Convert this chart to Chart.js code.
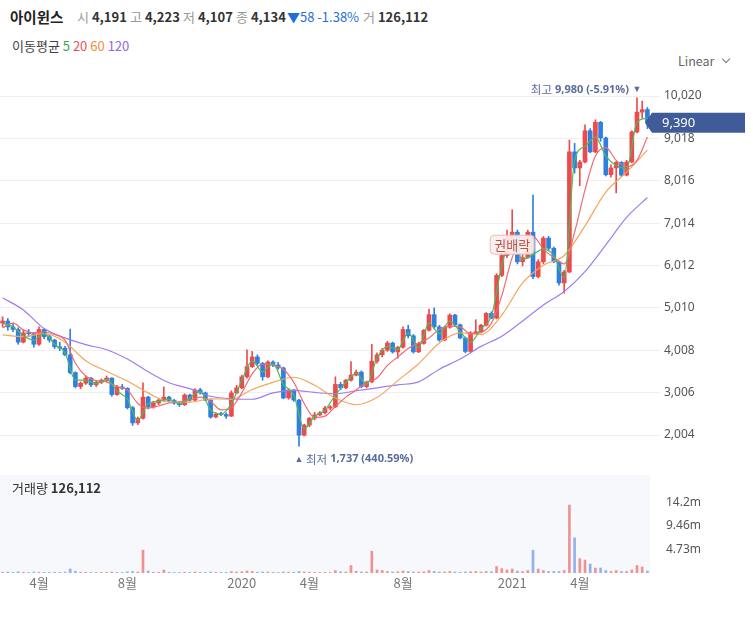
<!DOCTYPE html>
<html>
<head>
<meta charset="utf-8">
<script src="https://cdn.jsdelivr.net/npm/chart.js@4.4.1/dist/chart.umd.min.js"></script>
<style>
body { margin: 0; width: 753px; height: 617px; background: #fff; position: relative; overflow: hidden; font-family: 'Noto Sans CJK KR', 'Noto Sans', sans-serif; }
.t { position: absolute; font-size: 13px; line-height: 18px; color: #333; white-space: nowrap; }
.g { color: #999; }
.t b { color: #333; }
canvas { position: absolute; left: 0; }
.chev { position: absolute; left: 723px; top: 56px; width: 5px; height: 5px; border-right: 1.3px solid #777; border-bottom: 1.3px solid #777; transform: rotate(45deg); }
</style>
</head>
<body>
<div class="t" style="left:10px;top:8px;font-size:14.5px;font-weight:bold;color:#222">아이윈스</div>
<div class="t" style="left:77px;top:8px"><span class="g">시</span> <b>4,191</b></div>
<div class="t" style="left:130px;top:8px"><span class="g">고</span> <b>4,223</b></div>
<div class="t" style="left:183px;top:8px"><span class="g">저</span> <b>4,107</b></div>
<div class="t" style="left:236px;top:8px"><span class="g">종</span> <b>4,134</b></div>
<div class="t" style="left:287px;top:8px;color:#1f6fd6">▼58 -1.38%</div>
<div class="t" style="left:363px;top:8px"><span class="g">거</span> <b>126,112</b></div>
<div class="t" style="left:12px;top:37px;color:#444">이동평균 <span style="color:#3aa84a">5</span> <span style="color:#e9505a">20</span> <span style="color:#f08d3c">60</span> <span style="color:#8d6be6">120</span></div>
<div class="t" style="left:678px;top:52px;color:#666;font-size:12.5px">Linear</div>
<div class="chev"></div>

<canvas id="price" width="753" height="400" style="top:72px"></canvas>
<canvas id="volume" width="753" height="130" style="top:475px"></canvas>
<div class="t" style="left:12px;top:479px;color:#333">거래량 <b>126,112</b></div>

<script>
// weekly candles, Feb 2019 - Jun 2021
const open = [4650,4700,4560,4500,4200,4420,4400,4150,4500,4330,4250,4090,4060,3900,3480,3150,3230,3350,3190,3250,
  3300,3350,2960,3140,3110,2650,2290,2400,2900,2670,2760,2830,2900,2820,2760,2720,2950,2830,3070,3000,
  2830,2430,2500,2490,2450,3000,3120,3380,3620,3850,3700,3380,3730,3660,3590,2880,3070,2830,2000,2240,
  2400,2480,2530,2640,2670,3200,3120,3300,3420,3490,3150,3260,3750,3900,4010,4180,3970,4080,4500,4350,
  3970,4170,4480,4850,4560,4250,4550,4840,4610,4300,3980,4420,4440,4600,4880,4770,5780,6250,6660,6800,
  6100,6200,6800,5750,6100,6660,6420,6100,5600,5860,8700,8320,8460,9200,8700,9400,9030,8160,8320,8450,
  8150,8460,9170,9640,9700];
const high = [4800,4760,4650,4540,4480,4500,4420,4560,4520,4380,4270,4200,4100,4510,3500,3260,3400,3370,3280,3330,
  3400,3360,3180,3200,3120,2680,2430,3240,2920,2800,2860,3140,2920,2850,2780,2980,2970,3100,3110,3020,
  2840,2530,2540,2530,3050,3180,3420,4020,3980,3900,3720,3760,3760,3720,3610,3100,3080,2850,2260,2420,
  2540,2560,2680,2700,3380,3250,3320,3740,3540,3520,3280,4150,3950,4050,4220,4200,4100,4560,4600,4380,
  4200,4500,4980,5010,4600,4580,4870,4860,4630,4320,4450,4730,4620,4900,4920,5820,6300,6850,7330,6850,
  6300,6850,7680,6150,6700,6700,6450,6120,5900,8980,8900,8500,9340,9250,9460,9420,9050,8400,8480,8470,
  8500,9200,9980,9900,9750];
const low = [4560,4480,4450,4150,4180,4330,4080,4120,4280,4200,4050,4000,3880,3450,3120,3100,3200,3150,3150,3220,
  3260,2920,2940,3080,2620,2230,2250,2380,2620,2640,2720,2800,2780,2730,2680,2700,2800,2810,2970,2810,
  2400,2410,2460,2400,2440,2980,3100,3350,3600,3650,3300,3360,3620,3560,2860,2850,2800,1737,1980,2200,
  2360,2460,2500,2600,2650,3080,3100,3280,3400,3120,3120,3240,3700,3850,3980,3940,3820,4060,4300,3940,
  3950,4150,4460,4520,4220,4230,4530,4580,4280,3950,3960,4400,4420,4580,4750,4750,5750,6200,6600,6050,
  6000,6180,5700,5720,6050,6380,6080,5550,5360,5840,8200,7900,8440,8680,8680,8950,8130,8100,7730,8120,
  8130,8440,9150,9500,9250];
const close = [4700,4560,4500,4200,4420,4400,4150,4500,4330,4250,4090,4060,3900,3480,3150,3230,3350,3190,3250,3300,
  3350,2960,3140,3110,2650,2290,2400,2900,2670,2760,2830,2900,2820,2760,2720,2950,2830,3070,3000,2830,
  2430,2500,2490,2450,3000,3120,3380,3620,3850,3700,3380,3730,3660,3590,2880,3070,2830,2000,2240,2400,
  2480,2530,2640,2670,3200,3120,3300,3420,3490,3150,3260,3750,3900,4010,4180,3970,4080,4500,4350,3970,
  4170,4480,4850,4560,4250,4550,4840,4610,4300,3980,4420,4440,4600,4880,4770,5780,6250,6660,6800,6100,
  6200,6800,5750,6100,6660,6420,6100,5600,5860,8700,8320,8460,9200,8700,9400,9030,8160,8320,8450,8150,
  8460,9170,9640,9700,9390];
// volume in millions
const volume = [0.15,0.2,0.12,0.25,0.15,0.1,0.2,0.15,0.12,0.1,0.15,0.12,0.18,0.8,0.35,0.15,0.12,0.1,0.1,0.1,
  0.12,0.2,0.12,0.1,0.25,0.3,0.2,4.6,0.4,0.15,0.12,0.6,0.15,0.1,0.1,0.15,0.1,0.2,0.12,0.1,
  0.2,0.12,0.1,0.12,0.3,0.2,0.25,0.4,0.3,0.15,0.2,0.2,0.12,0.1,0.2,0.15,0.12,0.3,0.2,0.15,
  0.12,0.1,0.12,0.1,0.5,0.25,0.2,1.5,0.35,0.2,0.2,4.4,0.6,0.5,0.3,0.2,0.25,0.4,0.3,0.2,
  0.2,0.25,0.5,0.3,0.2,0.2,0.3,0.2,0.15,0.2,0.25,0.3,0.2,0.3,0.25,1.3,0.9,0.6,0.8,0.4,
  0.3,0.5,4.6,0.8,0.5,0.3,0.3,0.3,0.5,13.7,7.1,2.9,2.6,1.8,1.0,1.0,0.5,0.3,0.5,0.3,
  0.3,0.6,1.5,1.2,0.4];

// moving averages (ma5/ma20 every 2 weeks, ma60/ma120 every 4 weeks)
const ma5 = [4650,4560,4350,4250,4400,4150,3950,3300,3300,3220,3320,3050,2850,2350,2750,2800,2850,2740,2880,3030,
  2600,2500,2750,3300,3750,3500,3690,3200,2950,2150,2440,2600,2950,3250,3460,3200,3820,4100,4030,4420,
  4070,4650,4400,4700,4450,4200,4520,4820,6000,6730,6150,6270,6400,6250,5720,8500,8830,9050,8600,8380,
  8300,9400,9500];
const ma20 = [4540,4650,4490,4420,4440,4380,4250,3700,3400,3290,3260,3150,3070,2750,2640,2690,2760,2790,2830,2900,
  2800,2600,2650,3000,3450,3680,3660,3560,3250,2750,2420,2450,2680,2900,3070,3250,3350,3650,3850,4050,
  4180,4300,4500,4580,4560,4400,4430,4650,5300,6200,6650,6700,6400,6200,6050,6800,7800,8600,8800,8500,
  8350,8500,9050];
const ma60 = [4370,4330,4400,4200,3760,3510,3280,3000,2790,2780,2860,2850,3080,3250,3370,3180,
  2880,2720,2890,3290,3690,4180,4420,4380,4840,5600,6020,6250,6950,7750,8220,8740];
const ma120 = [5250,4960,4520,4300,4140,4020,3800,3500,3240,3100,2920,2860,2850,3000,3060,3010,
  2980,3050,3120,3190,3260,3560,3800,4100,4340,4700,5080,5400,5870,6500,7150,7620];

const priceTicks = [2004, 3006, 4008, 5010, 6012, 7014, 8016, 9018, 10020];
const volumeTicks = [4.73, 9.46, 14.2];
const tickWeeks = [7, 24, 46, 59, 77, 98, 111];
const tickLabels = ['4월', '8월', '2020', '4월', '8월', '2021', '4월'];
const events = [{ week: 98, label: '권배락' }];

const upColor = '#ec4b4b';
const downColor = '#2f7fe0';
const isUp = close.map((c, i) => c >= open[i]);
const candleColors = isUp.map(u => u ? upColor : downColor);
const fmt = v => v.toLocaleString('en-US');

Chart.defaults.font.family = "'Noto Sans CJK KR', 'Noto Sans', sans-serif";
Chart.defaults.animation = false;

// keep the plot area exactly where the layout puts it
const noPad = s => { s.paddingTop = 0; s.paddingBottom = 0; s.paddingLeft = 0; s.paddingRight = 0; };

const maLine = (label, values, step, color) => ({
    type: 'line',
    label: label,
    data: values.map((v, k) => ({ x: k * step, y: v })),
    borderColor: color,
    borderWidth: 1.2,
    pointRadius: 0,
    cubicInterpolationMode: 'monotone',
    order: 0,
});

const markers = {
    id: 'markers',
    afterDatasetsDraw(chart) {
        const { ctx, scales: { x, y } } = chart;
        const last = close[close.length - 1];
        const hiIdx = high.indexOf(Math.max(...high));
        const loIdx = low.indexOf(Math.min(...low));
        const hi = high[hiIdx], lo = low[loIdx];
        const slate = '#5a6c9c';
        ctx.save();
        ctx.textBaseline = 'middle';

        // high marker
        let hx = x.getPixelForValue(hiIdx), hy = y.getPixelForValue(hi) - 8;
        ctx.fillStyle = slate;
        ctx.font = '9px sans-serif';
        ctx.textAlign = 'center';
        ctx.fillText('▼', hx, hy);
        ctx.textAlign = 'right';
        ctx.font = 'bold 11px "Noto Sans"';
        const hiText = fmt(hi) + ' (' + ((last / hi - 1) * 100).toFixed(2) + '%)';
        ctx.fillText(hiText, hx - 8, hy);
        const w1 = ctx.measureText(hiText).width;
        ctx.font = '11.5px "Noto Sans CJK KR"';
        ctx.fillText('최고', hx - 11 - w1, hy);

        // low marker
        let lx = x.getPixelForValue(loIdx), ly = y.getPixelForValue(lo) + 13;
        ctx.font = '9px sans-serif';
        ctx.textAlign = 'center';
        ctx.fillText('▲', lx, ly);
        ctx.textAlign = 'left';
        ctx.font = '11.5px "Noto Sans CJK KR"';
        ctx.fillText('최저', lx + 7, ly);
        const w2 = ctx.measureText('최저').width;
        ctx.font = 'bold 11px "Noto Sans"';
        ctx.fillText(fmt(lo) + ' (' + ((last / lo - 1) * 100).toFixed(2) + '%)', lx + 10 + w2, ly);

        // event badge
        events.forEach(ev => {
            const ex = x.getPixelForValue(ev.week), ey = y.getPixelForValue(low[ev.week]) + 4;
            ctx.font = '13px "Noto Sans CJK KR"';
            const w = ctx.measureText(ev.label).width + 8;
            ctx.fillStyle = 'rgba(253,238,236,0.92)';
            ctx.strokeStyle = '#e6bdb6';
            ctx.lineWidth = 1;
            ctx.beginPath();
            ctx.roundRect(ex - w / 2, ey - 9.5, w, 19, 4);
            ctx.fill();
            ctx.stroke();
            ctx.fillStyle = '#b4574d';
            ctx.textAlign = 'center';
            ctx.fillText(ev.label, ex, ey + 0.5);
        });

        // last price tag
        const py = y.getPixelForValue(last);
        const left = chart.chartArea.right + 2;
        ctx.fillStyle = '#3f5b98';
        ctx.beginPath();
        ctx.moveTo(left - 7, py);
        ctx.lineTo(left, py - 10);
        ctx.lineTo(left + 93, py - 10);
        ctx.lineTo(left + 93, py + 10);
        ctx.lineTo(left, py + 10);
        ctx.closePath();
        ctx.fill();
        ctx.fillStyle = '#fff';
        ctx.textAlign = 'left';
        ctx.font = '13px "Noto Sans"';
        ctx.fillText(fmt(last), left + 10, py + 1);
        ctx.restore();
    }
};

const priceChart = new Chart(document.getElementById('price'),
    {
        type: 'bar',
        data:
        {
            datasets:
            [
                maLine('MA5', ma5, 2, '#4cbb5b'),
                maLine('MA20', ma20, 2, '#f06b73'),
                maLine('MA60', ma60, 4, '#f5a65c'),
                maLine('MA120', ma120, 4, '#a07cf0'),
                {
                    label: 'wick',
                    data: close.map((c, i) => ({ x: i, y: [low[i], high[i]] })),
                    backgroundColor: candleColors,
                    barThickness: 1,
                    grouped: false,
                    order: 2,
                },
                {
                    label: 'body',
                    data: close.map((c, i) => ({ x: i, y: [open[i], c] })),
                    backgroundColor: candleColors,
                    barThickness: 4,
                    minBarLength: 1,
                    grouped: false,
                    order: 1,
                }
            ]
        },
        options:
        {
            responsive: false,
            layout: { padding: 0, autoPadding: false },
            plugins:
            {
                legend: { display: false },
                tooltip: { enabled: false }
            },
            scales:
            {
                x:
                {
                    type: 'linear',
                    min: -0.5,
                    max: 124.5,
                    offset: false,
                    display: false,
                },
                y:
                {
                    position: 'right',
                    min: 1129,
                    max: 10589,
                    afterBuildTicks: s => { s.ticks = priceTicks.map(v => ({ value: v })); },
                    afterFit: s => { s.width = 103; noPad(s); },
                    border: { display: false },
                    grid: { color: '#efefef', tickLength: 10 },
                    ticks:
                    {
                        color: '#555',
                        font: { size: 12, family: 'Noto Sans' },
                        padding: 4,
                        callback: v => fmt(v),
                    }
                }
            }
        },
        plugins: [markers]
    })


const panelBg = {
    id: 'panelBg',
    beforeDatasetsDraw(chart) {
        const { ctx, chartArea: a } = chart;
        ctx.save();
        ctx.fillStyle = '#f6f8fb';
        ctx.fillRect(a.left, a.top, a.right - a.left, a.bottom - a.top);
        ctx.restore();
    }
};

const volumeChart = new Chart(document.getElementById('volume'),
    {
        type: 'bar',
        data:
        {
            datasets:
            [{
                label: 'volume',
                data: volume.map((v, i) => ({ x: i, y: v })),
                backgroundColor: isUp.map(u => u ? 'rgba(238,120,120,0.8)' : 'rgba(120,160,230,0.8)'),
                barThickness: 2,
            }]
        },
        options:
        {
            responsive: false,
            layout: { padding: 0, autoPadding: false },
            plugins:
            {
                legend: { display: false },
                tooltip: { enabled: false }
            },
            scales:
            {
                x:
                {
                    type: 'linear',
                    min: -0.5,
                    max: 124.5,
                    offset: false,
                    afterBuildTicks: s => { s.ticks = tickWeeks.map(v => ({ value: v })); },
                    afterFit: s => { s.height = 32; noPad(s); },
                    border: { display: false },
                    grid: { display: false, drawTicks: false, tickLength: 0 },
                    ticks:
                    {
                        color: '#777',
                        font: { size: 13 },
                        padding: 2,
                        maxRotation: 0,
                        autoSkip: false,
                        callback: (v, i) => tickLabels[i],
                    }
                },
                y:
                {
                    position: 'right',
                    min: 0,
                    max: 19.75,
                    afterBuildTicks: s => { s.ticks = volumeTicks.map(v => ({ value: v })); },
                    afterFit: s => { s.width = 103; noPad(s); },
                    border: { display: false },
                    grid: { display: false, drawTicks: false, tickLength: 0 },
                    ticks:
                    {
                        color: '#555',
                        font: { size: 12, family: 'Noto Sans' },
                        padding: 16,
                        callback: v => v + 'm',
                    }
                }
            }
        },
        plugins: [panelBg]
    })
</script>
</body>
</html>
